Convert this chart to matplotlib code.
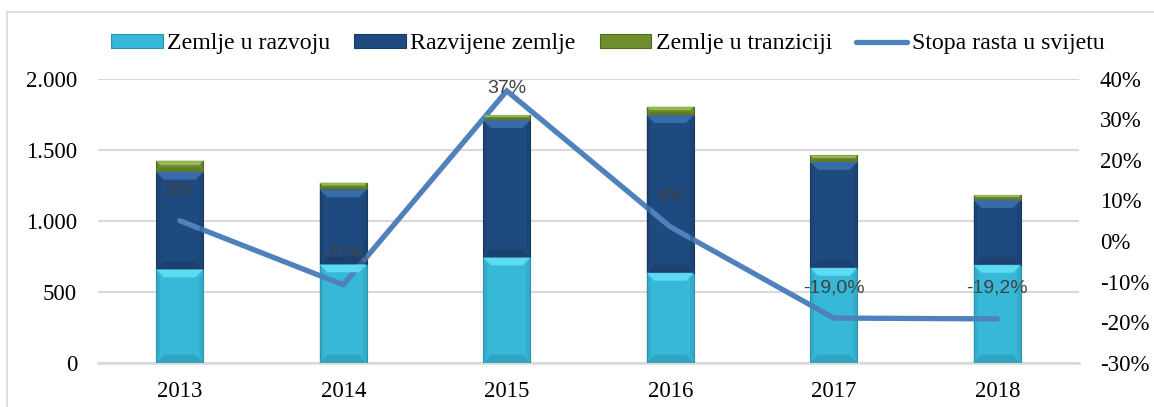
import matplotlib
matplotlib.use("Agg")
import matplotlib.pyplot as plt
from matplotlib.patches import Polygon, Patch
from matplotlib.lines import Line2D
from matplotlib.ticker import FuncFormatter, MultipleLocator

years = ["2013", "2014", "2015", "2016", "2017", "2018"]
developing = [658, 693, 742, 634, 669, 690]
developed = [687, 528, 967, 1110, 746, 456]
transition = [78, 47, 35, 59, 46, 35]
growth_rate = [5.0, -10.8, 37.0, 3.5, -19.0, -19.2]
rate_labels = ["5%", "-11%", "37%", "4%", "-19,0%", "-19,2%"]
series_names = ["Zemlje u razvoju", "Razvijene zemlje", "Zemlje u tranziciji", "Stopa rasta u svijetu"]

C_DEV = "#38B8D8"
C_DEVD = "#1F4A7F"
C_TRN = "#6E8E2E"
C_LINE = "#4F81BD"
HI = {C_DEV: "#62E0F6", C_DEVD: "#3C6EAE", C_TRN: "#9CBF58"}
LO = {C_DEV: "#2A93AE", C_DEVD: "#173A63", C_TRN: "#4F6A1F"}

W, H, DPI = 1154, 407, 100
fig = plt.figure(figsize=(W / DPI, H / DPI), dpi=DPI)
ax = fig.add_axes([98 / W, 1 - 362.7 / H, (1079 - 98) / W, (362.7 - 78.7) / H])
ax2 = ax.twinx()

x = list(range(len(years)))
bw = 0.29
b1 = ax.bar(x, developing, bw, color=C_DEV, edgecolor=LO[C_DEV], linewidth=0.8, zorder=3)
bottom2 = developing
b2 = ax.bar(x, developed, bw, bottom=bottom2, color=C_DEVD, edgecolor=LO[C_DEVD], linewidth=0.8, zorder=3)
bottom3 = [a + b for a, b in zip(developing, developed)]
b3 = ax.bar(x, transition, bw, bottom=bottom3, color=C_TRN, edgecolor=LO[C_TRN], linewidth=0.8, zorder=3)

ax.set_xlim(-0.5, len(years) - 0.5)
ax.set_ylim(0, 2000)
ax2.set_ylim(-30, 40)

fig.canvas.draw()


def bevel(rect, base):
    T = ax.transData
    x0, y0 = rect.get_x(), rect.get_y()
    px0, py0 = T.transform((x0, y0))
    px1, py1 = T.transform((x0 + rect.get_width(), y0 + rect.get_height()))
    b = min(8.0, (py1 - py0) * 0.4)
    top = Polygon([(px0, py1), (px1, py1), (px1 - b, py1 - b), (px0 + b, py1 - b)],
                  closed=True, transform=None, facecolor=HI[base], edgecolor="none",
                  zorder=4, alpha=0.9)
    bot = Polygon([(px0, py0), (px1, py0), (px1 - b, py0 + b), (px0 + b, py0 + b)],
                  closed=True, transform=None, facecolor=LO[base], edgecolor="none",
                  zorder=4, alpha=0.5)
    left = Polygon([(px0, py0), (px0 + b * 0.5, py0 + b), (px0 + b * 0.5, py1 - b), (px0, py1)],
                   closed=True, transform=None, facecolor=LO[base], edgecolor="none",
                   zorder=4, alpha=0.35)
    right = Polygon([(px1, py0), (px1 - b * 0.5, py0 + b), (px1 - b * 0.5, py1 - b), (px1, py1)],
                    closed=True, transform=None, facecolor=LO[base], edgecolor="none",
                    zorder=4, alpha=0.35)
    for p in (top, bot, left, right):
        fig.add_artist(p)


for cont, base in ((b1, C_DEV), (b2, C_DEVD), (b3, C_TRN)):
    for r in cont:
        bevel(r, base)

ax2.plot(x, growth_rate, color=C_LINE, linewidth=3.8, solid_capstyle="round",
         solid_joinstyle="miter", zorder=5)
for xi, r, lab in zip(x, growth_rate, rate_labels):
    ax2.text(xi, min(r + 7.5, 37.5), lab, ha="center", va="center",
             fontsize=14, color="#404040", family=["Liberation Sans", "DejaVu Sans"], zorder=6)

# axes styling
serif = ["Liberation Serif", "DejaVu Serif"]
ax.yaxis.set_major_locator(MultipleLocator(500))
ax.yaxis.set_major_formatter(FuncFormatter(lambda v, p: f"{int(v):,}".replace(",", ".")))
ax2.yaxis.set_major_locator(MultipleLocator(10))
ax2.yaxis.set_major_formatter(FuncFormatter(lambda v, p: f"{int(round(v))}%"))
ax.set_xticks(x)
ax.set_xticklabels(years)
ax.grid(axis="y", color="#D9D9D9", linewidth=1.5, zorder=0)
ax.set_axisbelow(True)
for a in (ax, ax2):
    for s in a.spines.values():
        s.set_visible(False)
ax.spines["bottom"].set_visible(True)
ax.spines["bottom"].set_color("#D9D9D9")
ax.spines["bottom"].set_linewidth(1.8)
ax.tick_params(axis="both", length=0, labelsize=16.5)
ax.tick_params(axis="y", pad=15)
ax.tick_params(axis="x", pad=13)
ax2.tick_params(axis="y", length=0, labelsize=16.5, pad=15)
for lab in ax.get_xticklabels() + ax.get_yticklabels() + ax2.get_yticklabels():
    lab.set_family(serif)
    lab.set_color("black")

# legend
handles = [
    Patch(facecolor=C_DEV, edgecolor=LO[C_DEV], linewidth=0.8),
    Patch(facecolor=C_DEVD, edgecolor=LO[C_DEVD], linewidth=0.8),
    Patch(facecolor=C_TRN, edgecolor=LO[C_TRN], linewidth=0.8),
    Line2D([0], [0], color=C_LINE, linewidth=3.8, solid_capstyle="round"),
]
fig.legend(handles, series_names, loc="center", bbox_to_anchor=(608 / W, 1 - 44 / H),
           ncol=4, frameon=False, prop={"family": serif, "size": 17.2},
           handlelength=2.15, handleheight=0.55, handletextpad=0.2, columnspacing=1.0)

# chart frame (top and left edges visible)
fig.add_artist(Line2D([7 / W, 1.01], [1 - 12 / H, 1 - 12 / H], color="#D9D9D9", linewidth=1.2,
                      transform=fig.transFigure))
fig.add_artist(Line2D([7 / W, 7 / W], [-0.01, 1 - 12 / H], color="#D9D9D9", linewidth=1.2,
                      transform=fig.transFigure))

fig.savefig("out.png", dpi=DPI)
